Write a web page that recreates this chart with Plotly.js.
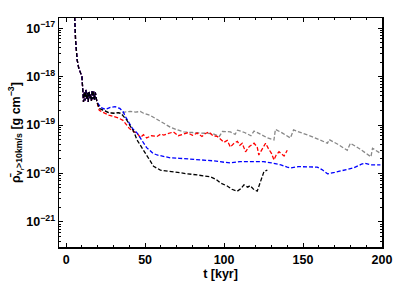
<!DOCTYPE html>
<html>
<head>
<meta charset="utf-8">
<script src="https://cdn.plot.ly/plotly-3.0.1.min.js"></script>
<style>html,body{margin:0;padding:0;background:#fff;}#chart{width:407px;height:282px;}</style>
</head>
<body>
<div id="chart"></div>
<script>
// shared early evolution (all runs identical until ~20 kyr)
const tEarly = [4.8, 5.5, 6, 7, 8, 9, 10, 10.5, 11, 11.5, 12, 12.5, 13, 13.5, 14, 14.5, 15, 15.5, 16, 16.5, 17, 17.5, 18, 18.5, 19, 19.5];
const rhoEarly = [3e-17, 1.5e-17, 5.6e-18, 2.2e-18, 1.5e-18, 1.25e-18, 1.0e-18, 5.7e-19, 3.0e-19, 4.8e-19, 3.2e-19, 5.3e-19, 3.5e-19, 4.6e-19, 3.0e-19, 5.0e-19, 3.6e-19, 4.4e-19, 3.1e-19, 5.2e-19, 3.4e-19, 4.9e-19, 3.3e-19, 4.7e-19, 3.5e-19, 3.0e-19];

// gray run
const tGray = [21, 24, 27, 30, 33, 35, 37, 40.6, 44, 47, 49, 53, 57, 61.8, 66, 70, 74.5, 80, 87.2, 93, 97, 99, 104, 107, 108.5, 113, 117, 119, 123, 127, 131.6, 132.5, 137, 142, 144, 150, 156, 160, 165.5, 166.5, 172, 178, 180, 186, 193, 194, 199];
const rhoGray = [2.2e-19, 2.0e-19, 1.8e-19, 1.75e-19, 1.8e-19, 1.75e-19, 1.85e-19, 1.9e-19, 1.85e-19, 1.9e-19, 1.75e-19, 1.6e-19, 1.35e-19, 1.1e-19, 9.0e-20, 8.0e-20, 7.2e-20, 7.0e-20, 6.8e-20, 6.6e-20, 5.8e-20, 7.4e-20, 7.2e-20, 6.4e-20, 7.8e-20, 7.0e-20, 6.0e-20, 7.5e-20, 6.5e-20, 5.5e-20, 4.9e-20, 8.1e-20, 6.8e-20, 5.4e-20, 7.9e-20, 6.8e-20, 5.7e-20, 5.0e-20, 4.2e-20, 5.0e-20, 4.0e-20, 3.0e-20, 4.2e-20, 3.2e-20, 2.2e-20, 3.3e-20, 2.6e-20];

// red run
const tRed = [21, 24, 27, 30, 33, 36, 38, 40, 42, 44.9, 47, 49, 51, 54, 57.6, 60, 61.8, 65, 68, 71, 74.5, 77, 80, 83, 86, 88, 90.3, 93, 95.7, 98, 100, 102, 104, 106, 108.4, 110, 111.5, 113.6, 116, 119, 121, 122, 124, 126.3, 128, 130, 131.6, 133, 134.8, 136.5, 138, 139, 140];
const rhoRed = [2.0e-19, 1.8e-19, 1.6e-19, 1.5e-19, 1.4e-19, 1.25e-19, 1.0e-19, 8.5e-20, 7.5e-20, 6.8e-20, 5.5e-20, 6.3e-20, 5.4e-20, 6.0e-20, 5.8e-20, 6.5e-20, 6.2e-20, 6.8e-20, 7.2e-20, 6.0e-20, 6.5e-20, 6.9e-20, 6.1e-20, 6.8e-20, 5.8e-20, 6.6e-20, 7.2e-20, 6.0e-20, 5.8e-20, 5.0e-20, 4.4e-20, 4.8e-20, 3.5e-20, 4.1e-20, 4.6e-20, 3.8e-20, 4.2e-20, 2.8e-20, 3.6e-20, 4.2e-20, 3.5e-20, 2.4e-20, 3.2e-20, 4.2e-20, 3.3e-20, 2.6e-20, 1.9e-20, 2.4e-20, 2.8e-20, 2.5e-20, 2.3e-20, 2.6e-20, 3.0e-20];

// blue run
const tBlue = [22, 25, 28, 31, 34, 36, 38, 40, 42, 45, 47, 49, 51, 53, 55, 57.6, 61.8, 66, 72, 77, 83, 90, 95, 100, 104, 110, 115, 120, 125, 130, 136, 140, 142, 147, 153, 159, 162, 165.5, 170, 176, 182, 187, 189, 193, 199];
const rhoBlue = [2.3e-19, 2.1e-19, 2.3e-19, 2.4e-19, 2.2e-19, 1.9e-19, 1.4e-19, 1.1e-19, 8.5e-20, 6.8e-20, 5.4e-20, 4.2e-20, 3.4e-20, 3.0e-20, 2.6e-20, 2.4e-20, 2.24e-20, 2.1e-20, 2.05e-20, 2.0e-20, 1.9e-20, 1.85e-20, 1.8e-20, 1.7e-20, 1.65e-20, 1.75e-20, 1.75e-20, 1.7e-20, 1.75e-20, 1.65e-20, 1.5e-20, 1.35e-20, 1.3e-20, 1.38e-20, 1.35e-20, 1.35e-20, 1.2e-20, 9.8e-21, 1.05e-20, 1.17e-20, 1.3e-20, 1.55e-20, 1.62e-20, 1.5e-20, 1.5e-20];

// black run
const tBlack = [21, 24, 27, 30, 33, 35, 37, 38.5, 40.6, 42.7, 44.9, 47, 49, 52, 55.4, 59.7, 65, 72.4, 77, 83, 88, 91.4, 95, 97.8, 102, 105, 108.4, 110.5, 112.6, 115, 116.5, 119, 121, 123, 125.3, 127.4];
const rhoBlack = [2.2e-19, 2.0e-19, 1.8e-19, 1.75e-19, 1.8e-19, 1.7e-19, 1.4e-19, 1.25e-19, 9.5e-20, 7.5e-20, 4.9e-20, 3.8e-20, 3.0e-20, 2.0e-20, 1.4e-20, 1.17e-20, 1.1e-20, 1.0e-20, 9.8e-21, 9.3e-21, 9.0e-21, 8.5e-21, 7.5e-21, 6.3e-21, 5.5e-21, 4.7e-21, 4.3e-21, 4.8e-21, 5.8e-21, 5.2e-21, 5.6e-21, 4.6e-21, 4.3e-21, 6.5e-21, 1.1e-20, 1.17e-20];

const yTickVals = [1e-21, 1e-20, 1e-19, 1e-18, 1e-17];
const yTickText = ["10<sup>−21</sup>", "10<sup>−20</sup>", "10<sup>−19</sup>", "10<sup>−18</sup>", "10<sup>−17</sup>"];
const xTickVals = [0, 50, 100, 150, 200];

const series = [
  {t: tGray, r: rhoGray, c: "#888888"},
  {t: tRed, r: rhoRed, c: "#ff0000"},
  {t: tBlue, r: rhoBlue, c: "#0000ff"},
  {t: tBlack, r: rhoBlack, c: "#000000"}
];
const traces = series.map(s => ({
  x: tEarly.concat(s.t),
  y: rhoEarly.concat(s.r),
  type: "scatter",
  mode: "lines",
  line: {color: s.c, width: 1.3, dash: "4px,2px"},
  hoverinfo: "none"
}));

const tickFont = {family: "Liberation Sans, Arial, sans-serif", size: 12.5, color: "#000", weight: "bold"};
const titleFont = {family: "Liberation Sans, Arial, sans-serif", size: 12.5, color: "#000", weight: "bold"};
const layout = {
  width: 407, height: 282,
  margin: {l: 59, r: 25, t: 18, b: 35},
  paper_bgcolor: "#fff", plot_bgcolor: "#fff",
  showlegend: false,
  xaxis: {
    range: [-4.5, 200], tickvals: xTickVals, ticktext: xTickVals.map(String),
    ticks: "inside", ticklen: 4, tickwidth: 1, tickcolor: "#000",
    minor: {dtick: 10, tick0: 0, ticks: "inside", ticklen: 2, tickcolor: "#000"},
    showline: true, linecolor: "#000", linewidth: 1.5, mirror: "allticks",
    showgrid: false, zeroline: false, tickfont: tickFont,
    title: {text: "t [kyr]", font: titleFont, standoff: 2}
  },
  yaxis: {
    type: "log", range: [-21.52, -16.79],
    tickvals: yTickVals, ticktext: yTickText,
    ticks: "inside", ticklen: 4, tickwidth: 1, tickcolor: "#000",
    minor: {dtick: "D1", ticks: "inside", ticklen: 2, tickcolor: "#000"},
    showline: true, linecolor: "#000", linewidth: 1.5, mirror: "allticks",
    showgrid: false, zeroline: false, tickfont: tickFont,
    title: {text: "ρ̄<sub>v<sub>r</sub>&gt;10km/s</sub> [g cm<sup>−3</sup>]", font: titleFont, standoff: 3}
  }
};
Plotly.newPlot("chart", traces, layout, {staticPlot: true, displayModeBar: false});
</script>
</body>
</html>
